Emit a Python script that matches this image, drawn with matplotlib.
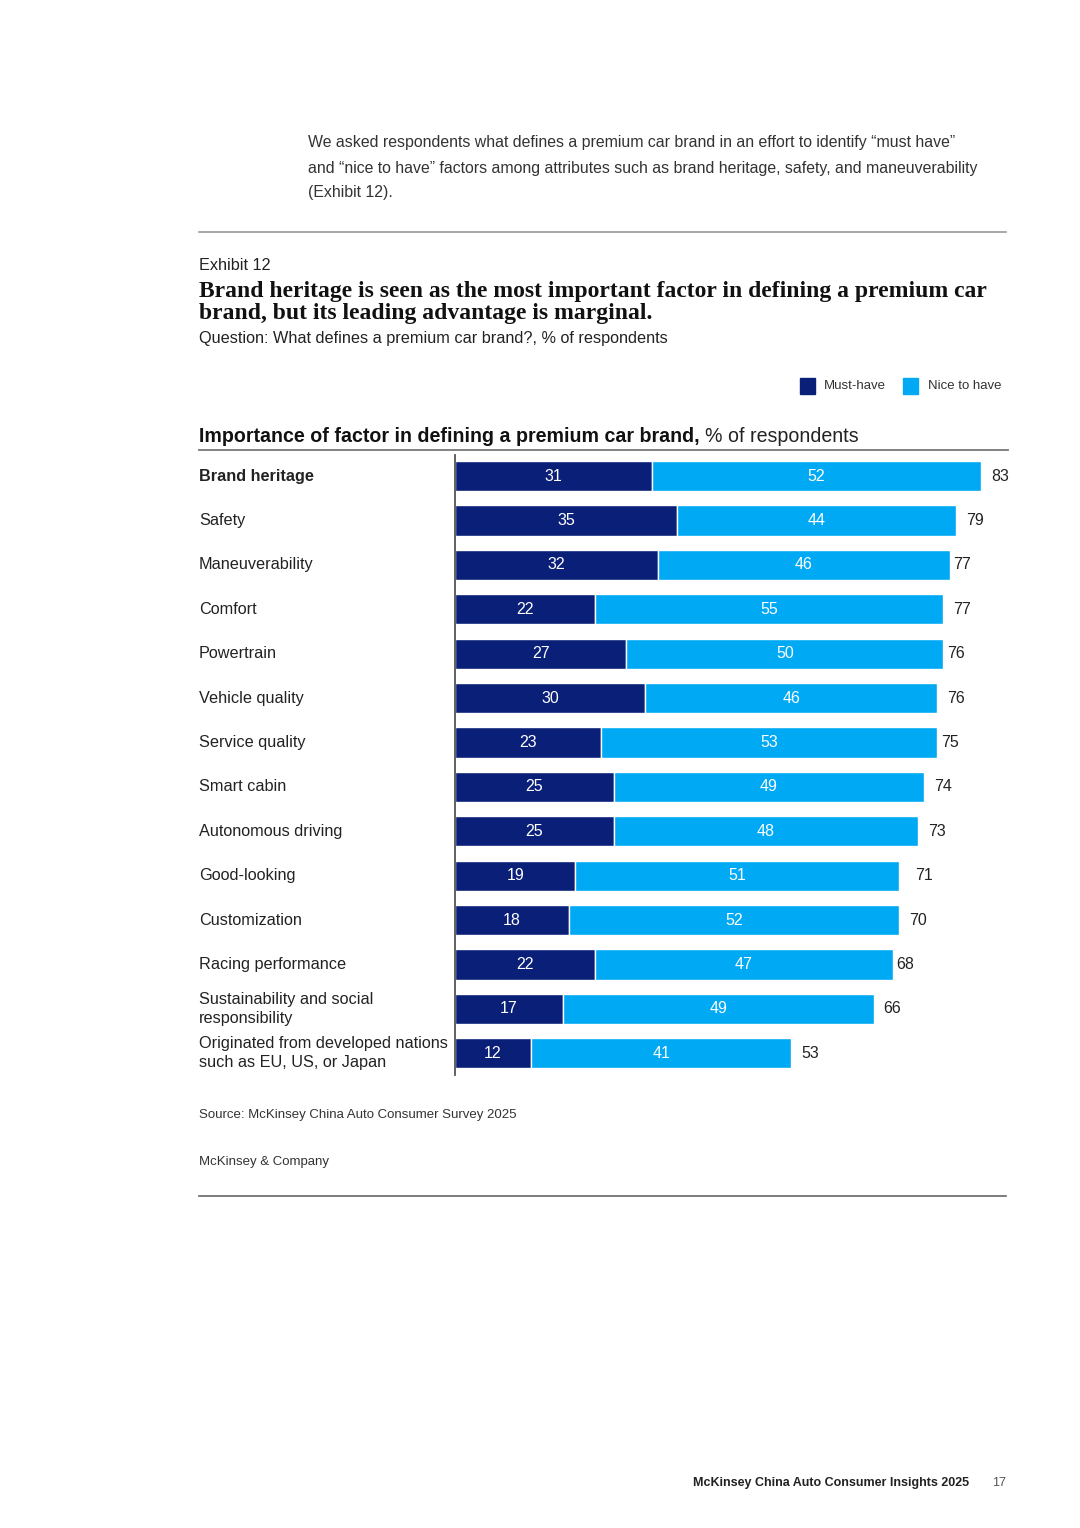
import matplotlib
matplotlib.use("Agg")
import matplotlib.pyplot as plt
from matplotlib.transforms import blended_transform_factory
import numpy as np

plt.rcParams['font.family'] = ['Liberation Sans', 'DejaVu Sans']

categories = ['Brand heritage', 'Safety', 'Maneuverability', 'Comfort', 'Powertrain',
              'Vehicle quality', 'Service quality', 'Smart cabin', 'Autonomous driving',
              'Good-looking', 'Customization', 'Racing performance',
              'Sustainability and social\nresponsibility',
              'Originated from developed nations\nsuch as EU, US, or Japan']
must_have = [31, 35, 32, 22, 27, 30, 23, 25, 25, 19, 18, 22, 17, 12]
nice_to_have = [52, 44, 46, 55, 50, 46, 53, 49, 48, 51, 52, 47, 49, 41]
totals = [83, 79, 77, 77, 76, 76, 75, 74, 73, 71, 70, 68, 66, 53]

navy = '#0a1f78'
sky = '#00a9f4'
W, H = 1080, 1528

fig = plt.figure(figsize=(10.8, 15.28), dpi=100)

def fx(px):
    return px / W

def fy(py):
    return 1 - py / H

# intro paragraph
intro = ['We asked respondents what defines a premium car brand in an effort to identify \u201cmust have\u201d',
         'and \u201cnice to have\u201d factors among attributes such as brand heritage, safety, and maneuverability',
         '(Exhibit 12).']
for i, line in enumerate(intro):
    fig.text(fx(308), fy(143 + 25 * i), line, fontsize=11.45, color='#333333', va='center', ha='left')

fig.add_artist(plt.Line2D([fx(199), fx(1006)], [fy(232), fy(232)], color='#9a9a9a', lw=1.2))

fig.text(fx(199), fy(266), 'Exhibit 12', fontsize=11.7, color='#222222', va='center')
fig.text(fx(199), fy(292), 'Brand heritage is seen as the most important factor in defining a premium car',
         fontsize=17, fontweight='bold', family='Liberation Serif', color='#111111', va='center')
fig.text(fx(199), fy(314), 'brand, but its leading advantage is marginal.',
         fontsize=17, fontweight='bold', family='Liberation Serif', color='#111111', va='center')
fig.text(fx(199), fy(339), 'Question: What defines a premium car brand?, % of respondents',
         fontsize=11.7, color='#222222', va='center')

# legend
fig.add_artist(plt.Rectangle((fx(800), fy(394)), fx(15), 16 / H, color=navy))
fig.text(fx(824), fy(386), 'Must-have', fontsize=9.5, color='#333333', va='center')
fig.add_artist(plt.Rectangle((fx(903), fy(394)), fx(15), 16 / H, color=sky))
fig.text(fx(928), fy(386), 'Nice to have', fontsize=9.5, color='#333333', va='center')

# chart header
t1 = fig.text(fx(199), fy(436), 'Importance of factor in defining a premium car brand,',
              fontsize=14.1, fontweight='bold', color='#111111', va='center')
fig.canvas.draw()
bb = t1.get_window_extent()
fig.text(bb.x1 / W + fx(5), fy(436), '% of respondents', fontsize=14.1, color='#222222', va='center')
fig.add_artist(plt.Line2D([fx(199), fx(1008)], [fy(450), fy(450)], color='#777777', lw=1.3))

# bars
ax = fig.add_axes([fx(455), fy(1075), fx(1008 - 455), 620 / H])
y = np.arange(len(categories))
ax.barh(y, must_have, height=0.68, color=navy, edgecolor='white', linewidth=1)
ax.barh(y, nice_to_have, left=must_have, height=0.68, color=sky, edgecolor='white', linewidth=1)
ax.set_xlim(0, 87.2)
ax.set_ylim(13.49, -0.473)
for i in range(len(categories)):
    ax.text(must_have[i] / 2, y[i], str(must_have[i]), color='white', fontsize=11.5,
            ha='center', va='center')
    ax.text(must_have[i] + nice_to_have[i] / 2, y[i], str(nice_to_have[i]), color='white',
            fontsize=11.5, ha='center', va='center')
    ax.text(totals[i] + 1.6, y[i], str(totals[i]), color='#222222', fontsize=11.5,
            ha='left', va='center')

tr = blended_transform_factory(fig.transFigure, ax.transData)
for i, c in enumerate(categories):
    ax.text(fx(199), y[i], c, transform=tr, fontsize=11.7, color='#222222',
            ha='left', va='center', linespacing=1.3,
            fontweight='bold' if i == 0 else 'normal')

for s in ['top', 'right', 'bottom']:
    ax.spines[s].set_visible(False)
ax.spines['left'].set_color('#555555')
ax.spines['left'].set_linewidth(1.3)
ax.set_xticks([])
ax.set_yticks([])
ax.patch.set_alpha(0)

fig.text(fx(199), fy(1115), 'Source: McKinsey China Auto Consumer Survey 2025',
         fontsize=9.5, color='#333333', va='center')
fig.text(fx(199), fy(1162), 'McKinsey & Company', fontsize=9.5, color='#333333', va='center')
fig.add_artist(plt.Line2D([fx(199), fx(1006)], [fy(1196), fy(1196)], color='#666666', lw=1.2))

fig.text(fx(969), fy(1483), 'McKinsey China Auto Consumer Insights 2025', fontsize=9,
         fontweight='bold', color='#222222', ha='right', va='center')
fig.text(fx(1006), fy(1483), '17', fontsize=9, color='#555555', ha='right', va='center')

fig.savefig('out.png', dpi=100, facecolor='white')
